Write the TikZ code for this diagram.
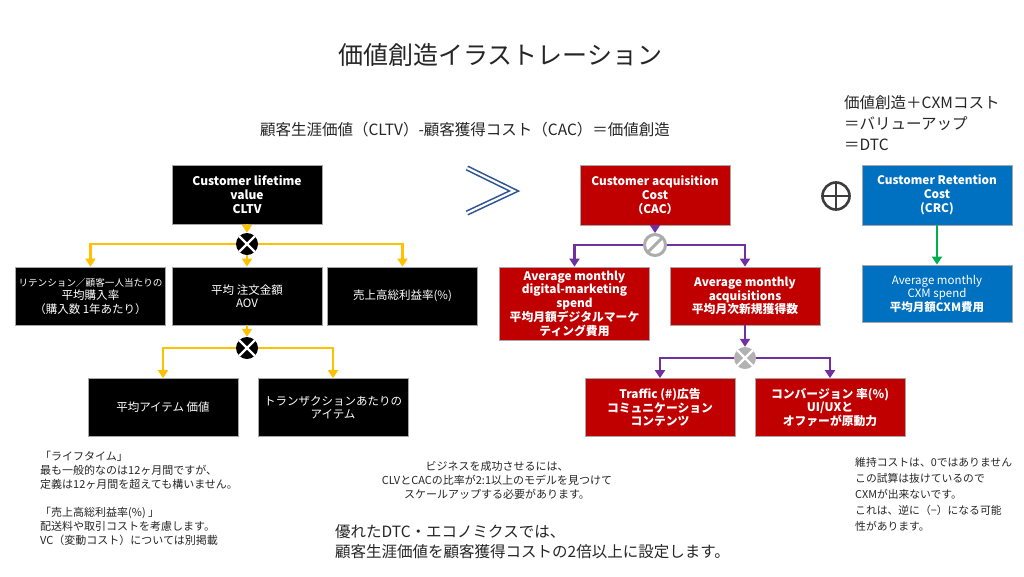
\documentclass[tikz,border=0pt]{standalone}
\usepackage{fontspec}
\setmainfont{Noto Sans CJK JP}
\usetikzlibrary{arrows.meta,calc}
\definecolor{cacred}{HTML}{C00000}
\definecolor{crcblue}{HTML}{0070C0}
\definecolor{ylw}{HTML}{FFC000}
\definecolor{purp}{HTML}{7030A0}
\definecolor{grn}{HTML}{00B050}
\definecolor{chev}{HTML}{2F5597}
\definecolor{txt}{HTML}{262626}
\begin{document}
\begin{tikzpicture}[x=1pt,y=-1pt,
  bx/.style={draw=gray!70, line width=0.8, minimum width=150, minimum height=58, inner sep=1, align=center, text=white, font=\fontsize{11.5}{13.5}\selectfont},
  blk/.style={bx, fill=black},
  red/.style={bx, fill=cacred, font=\bfseries\fontsize{11.8}{13.8}\selectfont},
  blu/.style={bx, fill=crcblue},
  jx/.style={circle, fill=#1, minimum size=22, inner sep=0,
    path picture={\draw[white,line width=2.4]
      ([shift={(-8,-8)}]path picture bounding box.center) -- ([shift={(8,8)}]path picture bounding box.center)
      ([shift={(-8,8)}]path picture bounding box.center) -- ([shift={(8,-8)}]path picture bounding box.center);}},
  yarr/.style={draw=ylw, line width=2.6, -{Triangle[width=10,length=8]}},
  parr/.style={draw=purp, line width=2.6, -{Triangle[width=10,length=8]}},
  garr/.style={draw=grn, line width=2.6, -{Triangle[width=10,length=8]}},
  note/.style={align=left, anchor=north west, text=txt, inner sep=0},
]
\useasboundingbox[fill=white] (0,0) rectangle (1024,576);

% title and formulas
\node[text=txt, font=\fontsize{25}{30}\selectfont] (title) at (500,55) {価値創造イラストレーション};
\node[text=txt, font=\fontsize{15.5}{18}\selectfont] (formula) at (465,130) {顧客生涯価値（CLTV）-顧客獲得コスト（CAC）＝価値創造};
\node[note, font=\fontsize{15.5}{21}\selectfont] (topright) at (844,95) {価値創造＋CXMコスト\\＝バリューアップ\\＝DTC};

% CLTV tree
\node[blk, minimum height=59, font=\bfseries\fontsize{12}{14}\selectfont] (cltv) at (247,194.5) {Customer lifetime\\value\\CLTV};
\node[jx=black] (j1) at (247,244) {};
\node[blk, inner sep=0] (b1) at (90.5,296) {{\fontsize{9.6}{13.5}\selectfont リテンション／顧客一人当たりの}\\平均購入率\\（購入数 1年あたり）};
\node[blk] (b2) at (247,296) {平均 注文金額\\AOV};
\node[blk] (b3) at (402.5,296) {売上高総利益率(\%)};
\node[jx=black] (j2) at (247,348) {};
\node[blk] (b4) at (163,407.5) {平均アイテム 価値};
\node[blk] (b5) at (333,407.5) {トランザクションあたりの\\アイテム};

\draw[yarr] (cltv) -- (j1);
\draw[yarr] (j1.west) -| (b1.north);
\draw[yarr] (j1) -- (b2);
\draw[yarr] (j1.east) -| (b3.north);
\draw[yarr] (b2) -- (j2);
\draw[yarr] (j2.west) -| (b4.north);
\draw[yarr] (j2.east) -| (b5.north);

% much greater chevron
\draw[chev, line width=1.6, double=white, double distance=2.2, line join=miter] (467,168) -- (514,191) -- (467,213);

% CAC tree
\node[red, minimum height=60] (cac) at (655,195) {Customer acquisition\\Cost\\（CAC）};
\node[circle, draw=gray!65, line width=3, fill=white, minimum size=21, inner sep=0] (j3) at (655,245) {};
\draw[gray!65, line width=3] ($(j3)+(-7,7)$) -- ($(j3)+(7,-7)$);
\node[red, minimum height=73] (ba) at (574.5,303.5) {Average monthly\\digital-marketing\\spend\\平均月額デジタルマーケ\\ティング費用};
\node[red] (bb) at (745,296) {Average monthly\\acquisitions\\平均月次新規獲得数};
\node[jx=gray!60] (j4) at (745,358) {};
\node[red] (bc) at (660,407.5) {Traffic (\#)広告\\コミュニケーション\\コンテンツ};
\node[red] (bd) at (830,407.5) {コンバージョン 率(\%)\\UI/UXと\\オファーが原動力};

\draw[parr] (cac) -- (j3);
\draw[parr] (j3.west) -| (ba.north);
\draw[parr] (j3.east) -| (bb.north);
\draw[parr] (bb) -- (j4);
\draw[parr] (j4.west) -| (bc.north);
\draw[parr] (j4.east) -| (bd.north);

% plus circle
\node[circle, draw=txt!90, line width=2.6, minimum size=27, inner sep=0] (plus) at (836,196) {};
\draw[txt!90, line width=2.6] (plus.north) -- (plus.south) (plus.west) -- (plus.east);

% CRC
\node[blu, minimum height=60, font=\bfseries\fontsize{11.8}{13.8}\selectfont] (crc) at (937,195) {Customer Retention\\Cost\\(CRC)};
\node[blu, minimum height=57] (be) at (937,293.5) {Average monthly\\CXM spend\\\textbf{平均月額CXM費用}};
\draw[garr] (crc) -- (be);

% notes
\node[note, font=\fontsize{11}{14}\selectfont] (n1) at (40,451) {「ライフタイム」\\最も一般的なのは12ヶ月間ですが、\\定義は12ヶ月間を超えても構いません。\\[14pt]「売上高総利益率(\%) 」\\配送料や取引コストを考慮します。\\VC（変動コスト）については別掲載};
\node[align=center, text=txt, font=\fontsize{11}{14}\selectfont] (n2) at (497,480) {ビジネスを成功させるには、\\CLVとCACの比率が2:1以上のモデルを見つけて\\スケールアップする必要があります。};
\node[note, font=\fontsize{15.5}{20}\selectfont] (n3) at (335,524) {優れたDTC・エコノミクスでは、\\顧客生涯価値を顧客獲得コストの2倍以上に設定します。};
\node[note, font=\fontsize{10.8}{16}\selectfont] (n4) at (855,457) {維持コストは、0ではありません\\この試算は抜けているので\\CXMが出来ないです。\\これは、逆に（−）になる可能\\性があります。};
\end{tikzpicture}
\end{document}
